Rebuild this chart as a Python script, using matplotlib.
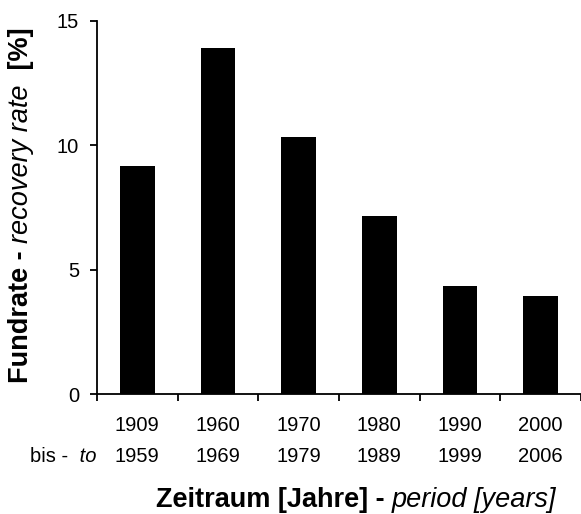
import numpy as np
import matplotlib
matplotlib.use("Agg")
import matplotlib.pyplot as plt

plt.rcParams['font.family'] = ['Liberation Sans', 'DejaVu Sans']

# data
starts = ["1909", "1960", "1970", "1980", "1990", "2000"]
ends = ["1959", "1969", "1979", "1989", "1999", "2006"]
rates = [9.15, 13.92, 10.33, 7.15, 4.35, 3.95]

fig = plt.figure(figsize=(5.81, 5.14), dpi=100)
ax = fig.add_axes([97/581, 1 - 394/514, 484/581, (394 - 21)/514])

x = np.arange(len(rates))
ax.bar(x, rates, width=0.43, color='black')

ax.set_xlim(-0.5, len(rates) - 0.5)
ax.set_ylim(0, 15)
ax.set_yticks([0, 5, 10, 15])
ax.spines['top'].set_visible(False)
ax.spines['right'].set_visible(False)
for s in ['left', 'bottom']:
    ax.spines[s].set_linewidth(1.3)

ax.set_xticks(x)
ax.set_xticklabels([a + "\n" + b for a, b in zip(starts, ends)], linespacing=1.78)
ax.set_xticks(np.arange(len(rates) + 1) - 0.5, minor=True)
ax.tick_params(axis='x', which='major', length=0, pad=16, labelsize=14.5)
ax.tick_params(axis='x', which='minor', length=5, width=1.3, direction='out')
ax.tick_params(axis='y', length=5, width=1.3, pad=8, labelsize=14.5)


def rich_text(x0, y0, pieces, size=14, vertical=False, align='center'):
    # pieces: list of (text, weight, style); x0, y0 in pixels from bottom-left
    r = fig.canvas.get_renderer()
    probe1 = fig.text(0, 0, "a a", fontsize=size)
    probe2 = fig.text(0, 0, "aa", fontsize=size)
    gap = probe1.get_window_extent(r).width - probe2.get_window_extent(r).width
    probe1.remove()
    probe2.remove()
    texts, lens = [], []
    for s, w, st in pieces:
        t = fig.text(0, 0, s, fontsize=size, fontweight=w, fontstyle=st,
                     ha='left', va='baseline', rotation=90 if vertical else 0,
                     rotation_mode='anchor')
        bb = t.get_window_extent(r)
        texts.append(t)
        lens.append(bb.height if vertical else bb.width)
    total = sum(lens) + gap * (len(lens) - 1)
    pos = (y0 if vertical else x0) - (total / 2 if align == 'center' else 0)
    W, H = fig.bbox.width, fig.bbox.height
    for t, L in zip(texts, lens):
        if vertical:
            t.set_position((x0 / W, pos / H))
        else:
            t.set_position((pos / W, y0 / H))
        pos += L + gap


rich_text(28, 514 - 205, [("Fundrate -", 'bold', 'normal'),
                          ("recovery rate", 'normal', 'italic'),
                          (" [%]", 'bold', 'normal')], size=19.5, vertical=True)
rich_text(356, 514 - 507, [("Zeitraum [Jahre] -", 'bold', 'normal'),
                           ("period [years]", 'normal', 'italic')], size=19.5)
rich_text(30, 514 - 462, [("bis -", 'normal', 'normal'),
                          (" to", 'normal', 'italic')], size=14.5, align='left')

fig.savefig("out.png", dpi=100)
